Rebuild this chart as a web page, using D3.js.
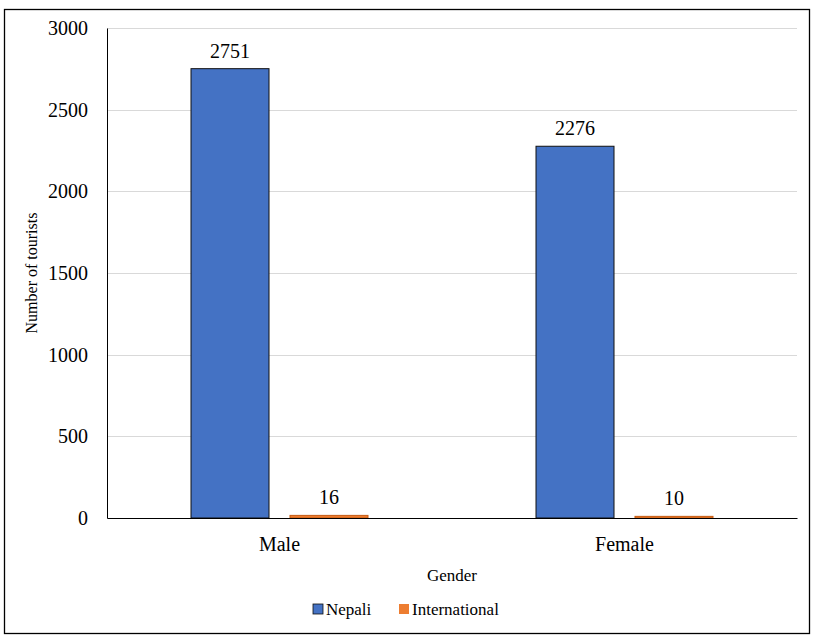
<!DOCTYPE html>
<html>
<head>
<meta charset="utf-8">
<script src="https://cdn.jsdelivr.net/npm/d3@7"></script>
<style>
  body { margin: 0; background: white; }
  svg, svg text { font-family: 'Liberation Serif', 'Times New Roman', Times, serif; }
</style>
</head>
<body>
<script>
// Chart data
const categories = ["Male", "Female"];
const seriesNames = ["Nepali", "International"];
const nepali = [2751, 2276];
const international = [16, 10];
const yTicks = [0, 500, 1000, 1500, 2000, 2500, 3000];

const colors = ["#4472C4", "#ED7D31"];

const width = 813;
const height = 638;
const margin = { top: 28, right: 16, bottom: 120, left: 107 };

const svg = d3.select("body").append("svg")
    .attr("width", width)
    .attr("height", height);

// outer frame
svg.append("rect")
    .attr("x", 4.5).attr("y", 9.5)
    .attr("width", 805).attr("height", 624)
    .attr("fill", "white")
    .attr("stroke", "#000")
    .attr("stroke-width", 1.3);

const x0 = d3.scaleBand()
    .domain(categories)
    .range([margin.left, width - margin.right])
    .paddingInner(0.487)
    .paddingOuter(0.2435);

const x1 = d3.scaleBand()
    .domain(seriesNames)
    .range([0, x0.bandwidth()])
    .paddingInner(0.212);

const y = d3.scaleLinear()
    .domain([0, 3000])
    .range([height - margin.bottom, margin.top]);

// gridlines
svg.append("g")
  .selectAll("line")
  .data(yTicks.filter(d => d > 0))
  .join("line")
    .attr("x1", margin.left)
    .attr("x2", width - margin.right)
    .attr("y1", d => Math.round(y(d)) + 0.5)
    .attr("y2", d => Math.round(y(d)) + 0.5)
    .attr("stroke", "#d9d9d9");

// y axis
const yAxis = svg.append("g")
    .attr("transform", `translate(${margin.left},0)`)
    .call(d3.axisLeft(y).tickValues(yTicks).tickFormat(d3.format("d")).tickSize(0).tickPadding(19));
yAxis.attr("font-family", null);
yAxis.select(".domain").attr("stroke", "#000");
yAxis.selectAll("text")
    .attr("font-size", 20)
    .attr("fill", "#000");

// bars
const rows = categories.map((c, i) => ({ cat: c, values: [nepali[i], international[i]] }));

const group = svg.append("g")
  .selectAll("g")
  .data(rows)
  .join("g")
    .attr("transform", d => `translate(${x0(d.cat)},0)`);

group.selectAll("rect")
  .data(d => d.values.map((v, i) => ({ key: seriesNames[i], value: v, i })))
  .join("rect")
    .attr("x", d => x1(d.key))
    .attr("y", d => y(d.value))
    .attr("width", x1.bandwidth())
    .attr("height", d => y(0) - y(d.value))
    .attr("fill", d => colors[d.i])
    .attr("stroke", d => d.i === 0 ? "#111" : "#c55a11")
    .attr("stroke-width", 1);

group.selectAll("text")
  .data(d => d.values.map((v, i) => ({ key: seriesNames[i], value: v, i })))
  .join("text")
    .attr("x", d => x1(d.key) + x1.bandwidth() / 2)
    .attr("y", d => y(d.value) - 11)
    .attr("text-anchor", "middle")
    .attr("font-size", 20)
    .text(d => d.value);

// x axis
const xAxis = svg.append("g")
    .attr("transform", `translate(0,${y(0)})`)
    .call(d3.axisBottom(x0).tickSize(0).tickPadding(19));
xAxis.attr("font-family", null);
xAxis.select(".domain").attr("stroke", "#000");
xAxis.selectAll("text")
    .attr("font-size", 20)
    .attr("fill", "#000");

// axis titles
svg.append("text")
    .attr("x", (margin.left + width - margin.right) / 2)
    .attr("y", 581)
    .attr("text-anchor", "middle")
    .attr("font-size", 17)
    .text("Gender");

svg.append("text")
    .attr("transform", `translate(37,${(margin.top + y(0)) / 2}) rotate(-90)`)
    .attr("text-anchor", "middle")
    .attr("font-size", 16)
    .text("Number of tourists");

// legend
const legendX = [313, 399];
const legend = svg.append("g")
  .selectAll("g")
  .data(seriesNames)
  .join("g")
    .attr("transform", (d, i) => `translate(${legendX[i]},604)`);

legend.append("rect")
    .attr("width", 10).attr("height", 10)
    .attr("fill", (d, i) => colors[i])
    .attr("stroke", (d, i) => i === 0 ? "#111" : "none")
    .attr("stroke-width", 0.8);

legend.append("text")
    .attr("x", 13)
    .attr("y", 11)
    .attr("font-size", 17)
    .text(d => d);
</script>
</body>
</html>
